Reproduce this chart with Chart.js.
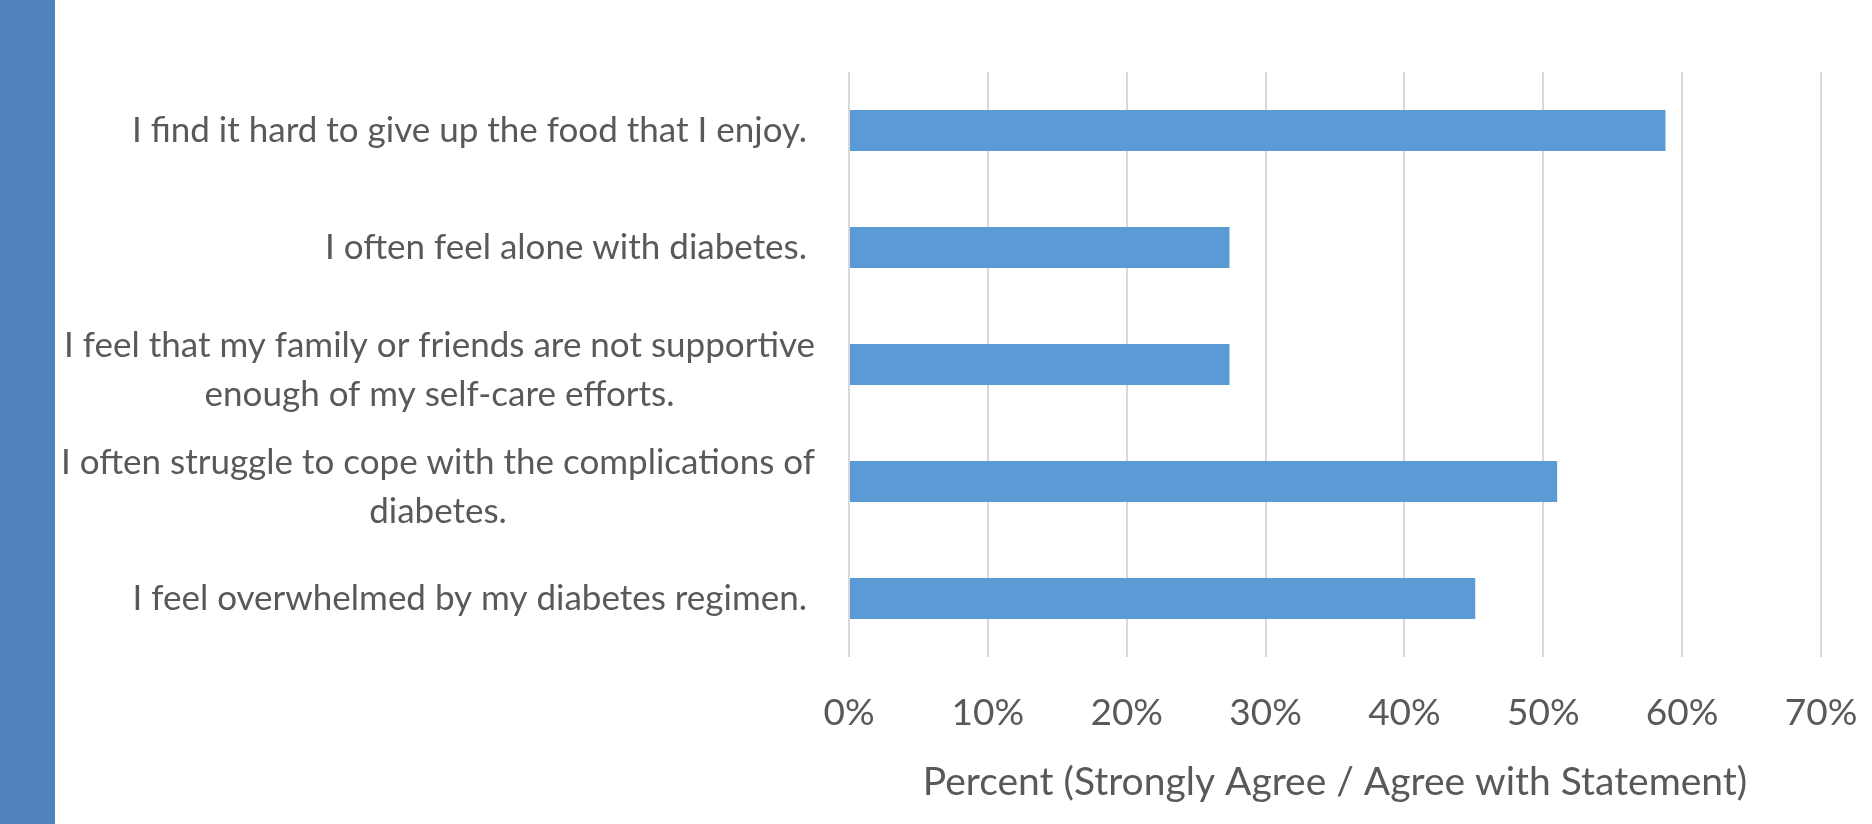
<!DOCTYPE html>
<html>
<head>
<meta charset="utf-8">
<title>Diabetes distress statements</title>
<script src="https://cdn.jsdelivr.net/npm/chart.js@4.4.1/dist/chart.umd.min.js"></script>
<style>
    html, body { margin: 0; padding: 0; background: #ffffff; }
    #wrap { position: relative; width: 1872px; height: 824px; overflow: hidden; }
    #sideBand { position: absolute; left: 0; top: 0; width: 55px; height: 824px; background: #4f81bd; z-index: 2; }
    #statementChart { position: absolute; left: 0; top: 0; }
</style>
</head>
<body>
<div id="wrap">
    <div id="sideBand"></div>
    <canvas id="statementChart" width="1872" height="824"></canvas>
</div>
<script>
//////////////////////* Labels & Values *////////////////////////////
let statements = [
    "I find it hard to give up the food that I enjoy.",
    "I often feel alone with diabetes.",
    ["I feel that my family or friends are not supportive", "enough of my self-care efforts."],
    ["I often struggle to cope with the complications of", "diabetes."],
    "I feel overwhelmed by my diabetes regimen.",
];

// share who strongly agree / agree with each statement
let agreePercent = [58.8, 27.4, 27.4, 51.0, 45.1];

let percentTicks = [0, 10, 20, 30, 40, 50, 60, 70];

let axisTitle = "Percent (Strongly Agree / Agree with Statement)";

//////////////////////* Styles *////////////////////////////
let barColor = "#5b9bd5";
let textColor = "#595959";
let gridColor = "#d9d9d9";
let primaryFont = "Lato, 'Open Sans', sans-serif";

//////////////////////* Statement labels (right edge, wrapped lines centred) *////////////////////////////
const statementLabels = {
    id: "statementLabels",
    afterDraw(chart) {
        let ctx = chart.ctx;
        let yScale = chart.scales.y;
        let lineGap = 49;
        ctx.save();
        ctx.font = "35px " + primaryFont;
        ctx.fillStyle = textColor;
        ctx.textAlign = "center";
        ctx.textBaseline = "middle";
        statements.forEach(function (label, i) {
            let lines = Array.isArray(label) ? label : [label];
            let wrapped = lines.length > 1;
            // wrapped blocks sit a little closer to the axis
            let rightEdge = chart.chartArea.left - (wrapped ? 34 : 42);
            let widest = Math.max.apply(null, lines.map(function (l) { return ctx.measureText(l).width; }));
            let cx = rightEdge - widest / 2;
            let cy = yScale.getPixelForValue(i) + (wrapped ? 6 : 0);
            lines.forEach(function (line, j) {
                ctx.fillText(line, cx, cy + (j - (lines.length - 1) / 2) * lineGap);
            });
        });
        ctx.restore();
    },
};

//////////////////////* Horizontal Bar Chart *////////////////////////////
function statementBarChart() {
    let ctx = document.getElementById("statementChart");
    let data = {
        labels: statements,
        datasets: [
            {
                label: "Strongly Agree / Agree",
                data: agreePercent,
                backgroundColor: barColor,
                borderWidth: 0,
                categoryPercentage: 1,
                barPercentage: 0.35,
            },
        ],
    };
    let config = {
        type: "bar",
        data: data,
        plugins: [statementLabels],
        options: {
            indexAxis: "y",
            responsive: false,
            animation: false,
            layout: {
                padding: { left: 849, right: 51, top: 72, bottom: 0 },
            },
            plugins: {
                legend: { display: false },
                tooltip: { enabled: false },
            },
            scales: {
                y: {
                    display: false,
                },
                x: {
                    min: 0,
                    max: 70,
                    afterBuildTicks: function (scale) {
                        scale.ticks = percentTicks.map(function (v) { return { value: v }; });
                    },
                    // fixed band for tick labels + title, no extra side padding
                    afterFit: function (scale) {
                        scale.height = 167;
                        scale.paddingLeft = 0;
                        scale.paddingRight = 0;
                    },
                    border: { display: false },
                    grid: {
                        color: gridColor,
                        lineWidth: 2,
                        drawTicks: false,
                    },
                    ticks: {
                        color: textColor,
                        padding: 34,
                        callback: function (value) {
                            return value + "%";
                        },
                        font: { family: primaryFont, size: 37 },
                    },
                    title: {
                        display: true,
                        text: axisTitle,
                        color: textColor,
                        padding: { top: 10, bottom: 18 },
                        font: { family: primaryFont, size: 39 },
                    },
                },
            },
        },
    };
    let chart = new Chart(ctx, config);
}

statementBarChart();
</script>
</body>
</html>
